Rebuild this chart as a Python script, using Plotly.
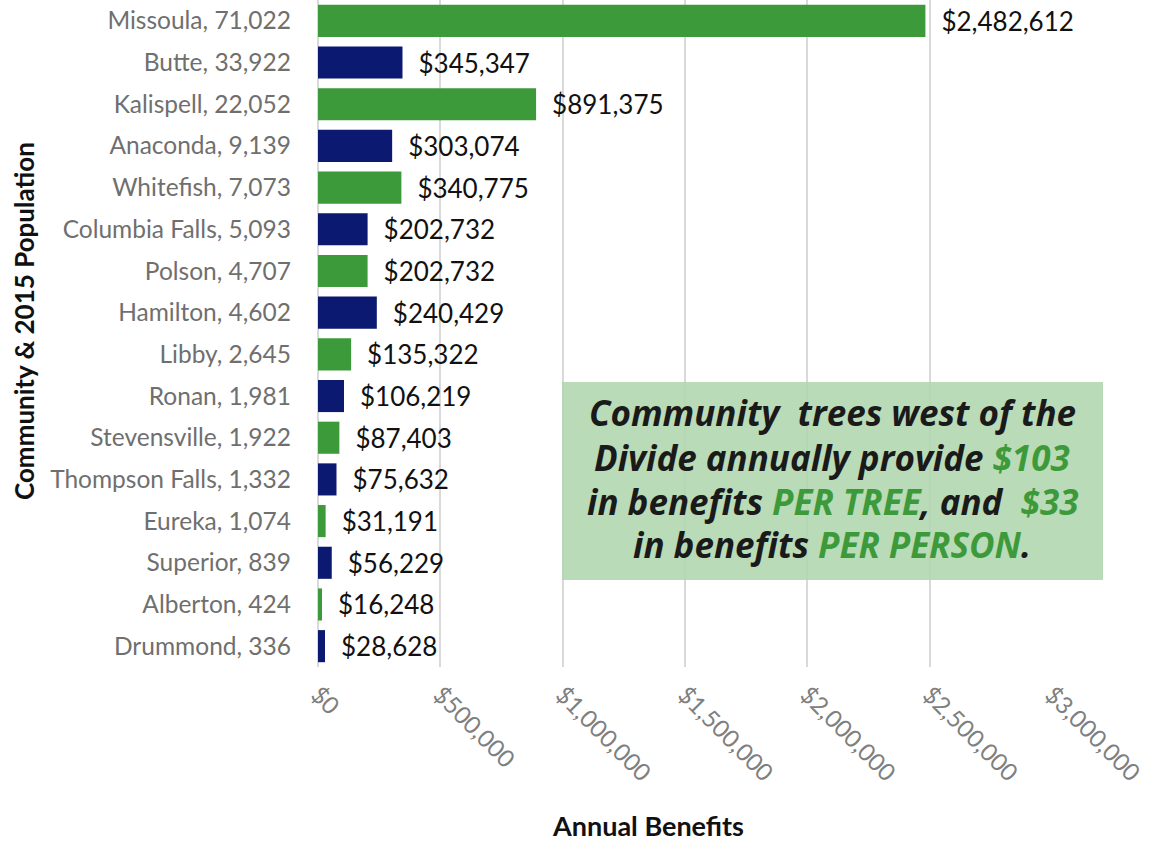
import plotly.graph_objects as go

communities = ["Missoula, 71,022", "Butte, 33,922", "Kalispell, 22,052", "Anaconda, 9,139",
               "Whitefish, 7,073", "Columbia Falls, 5,093", "Polson, 4,707", "Hamilton, 4,602",
               "Libby, 2,645", "Ronan, 1,981", "Stevensville, 1,922", "Thompson Falls, 1,332",
               "Eureka, 1,074", "Superior, 839", "Alberton, 424", "Drummond, 336"]
benefits = [2482612, 345347, 891375, 303074, 340775, 202732, 202732, 240429,
            135322, 106219, 87403, 75632, 31191, 56229, 16248, 28628]
tick_vals = [0, 500000, 1000000, 1500000, 2000000, 2500000, 3000000]
tick_text = ["$0", "$500,000", "$1,000,000", "$1,500,000", "$2,000,000", "$2,500,000", "$3,000,000"]

G = "<span style='color:#3d9a3b'>{}</span>"
callout_lines = [
    "Community  trees west of the",
    "Divide annually provide " + G.format("$103"),
    "in benefits " + G.format("PER TREE") + ", and  " + G.format("$33"),
    "in benefits " + G.format("PER PERSON") + ".",
]

GREEN = "#3d9a3b"
NAVY = "#0b1970"
colors = [GREEN if i % 2 == 0 else NAVY for i in range(len(communities))]
labels = ["\u2002$" + f"{v:,}" for v in benefits]

FONT = "Lato, 'Open Sans', sans-serif"
CALLOUT_FONT = "'Open Sans', Lato, sans-serif"

# plot area in pixels: x 318..1052, y 0..667
def px(xp):
    return (xp - 318) / 734

def py(yp):
    return (667 - yp) / 667

fig = go.Figure(go.Bar(
    y=communities, x=benefits, orientation="h",
    marker=dict(color=colors, line=dict(width=0)),
    text=labels, textposition="outside", cliponaxis=False,
    textfont=dict(family=FONT, size=26, color="#111111"),
    hoverinfo="skip",
))

annotations = [
    dict(text="<b>Annual Benefits</b>", xref="paper", yref="paper",
         x=px(648), y=py(825), showarrow=False,
         font=dict(family=FONT, size=27, color="#111111"), xanchor="center", yanchor="middle"),
    dict(text="<b>Community &amp; 2015 Population</b>", xref="paper", yref="paper",
         x=px(24), y=py(321), showarrow=False, textangle=-90,
         font=dict(family=FONT, size=26, color="#111111"), xanchor="center", yanchor="middle"),
]
line_y = [413, 457, 501, 544]
for ln, yy in zip(callout_lines, line_y):
    annotations.append(dict(
        text="<b><i>" + ln + "</i></b>", xref="paper", yref="paper",
        x=px(832), y=py(yy), showarrow=False, xanchor="center", yanchor="middle",
        font=dict(family=CALLOUT_FONT, size=35, color="#1a1a1a")))

fig.update_layout(
    width=1150, height=842,
    margin=dict(l=318, r=98, t=0, b=175),
    paper_bgcolor="white", plot_bgcolor="white",
    bargap=0.23, showlegend=False,
    font=dict(family=FONT),
    xaxis=dict(range=[0, 3000000], tickvals=tick_vals, ticktext=tick_text,
               tickangle=45, showgrid=True, gridcolor="#d9d9d9", gridwidth=1.5,
               zeroline=True, zerolinecolor="#d9d9d9", zerolinewidth=1.5,
               tickfont=dict(family=FONT, size=24, color="#7f7f7f"),
               ticklabelstandoff=8, showline=False, ticks=""),
    yaxis=dict(autorange="reversed", categoryorder="array", categoryarray=communities,
               tickfont=dict(family=FONT, size=24.5, color="#6f6f6f"),
               ticks="", ticklabelstandoff=26, showgrid=False, zeroline=False, showline=False),
    shapes=[dict(type="rect", xref="paper", yref="paper",
                 x0=px(562), x1=px(1103), y0=py(580), y1=py(382),
                 fillcolor="rgba(177,214,173,0.88)", line=dict(width=0), layer="above")],
    annotations=annotations,
)

fig.write_html("out.html")
